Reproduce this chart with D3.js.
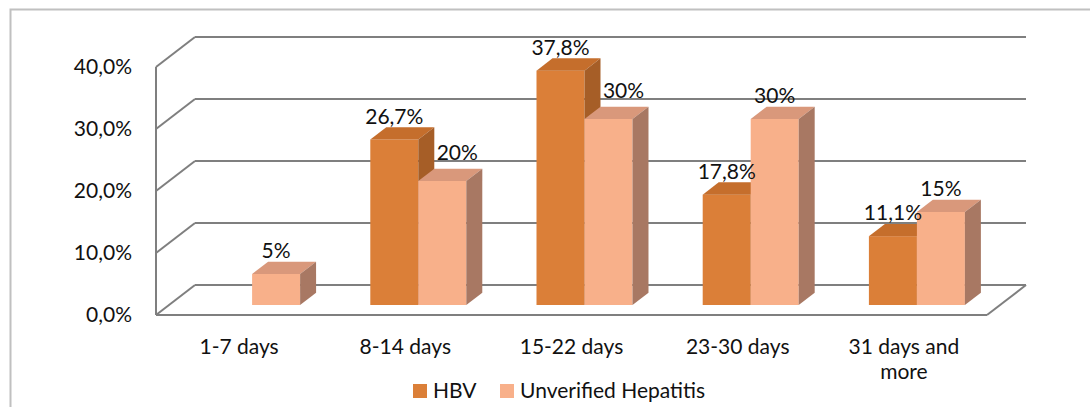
<!DOCTYPE html>
<html><head><meta charset="utf-8">
<script src="https://cdn.jsdelivr.net/npm/d3@7"></script>
<style>
html,body{margin:0;padding:0;background:#fff;}
svg{display:block;font-family:Lato,"Open Sans",sans-serif;}
</style></head>
<body><svg id="c" width="1090" height="407"></svg>
<script>
const categories = ["1-7 days","8-14 days","15-22 days","23-30 days","31 days and more"];
const seriesNames = ["HBV","Unverified Hepatitis"];
const hbv = [null, 26.7, 37.8, 17.8, 11.1];
const unverified = [5, 20, 30, 30, 15];
const tickValues = [0, 10, 20, 30, 40];
const tickLabels = ["0,0%","10,0%","20,0%","30,0%","40,0%"];

const svg = d3.select("#c");
const fontSize = 21;
const textColor = "#111";
const colors = {
  hbv: {front:"#DB7F38", top:"#C56E2C", side:"#A65E27"},
  unv: {front:"#F8B08A", top:"#D9987B", side:"#A87863"}
};

// outer border
svg.append("rect").attr("x",10.5).attr("y",9.5).attr("width",1100).attr("height",420)
  .attr("fill","none").attr("stroke","#c0c0c0").attr("stroke-width",2);

// geometry
const x0 = 156, x1 = 987;
const dX = 39, dY = -30;
const y = d3.scaleLinear().domain([0,40]).range([315,67]);
const xBand = d3.scaleBand().domain(categories).range([x0,x1]);
const barFrac = 1/3, barDepth = 0.41;
const barW = 48;

const grid = svg.append("g").attr("stroke","#7f7f7f").attr("stroke-width",2).attr("fill","none");
tickValues.forEach(v=>{
  grid.append("line").attr("x1",x0+dX).attr("x2",x1+dX).attr("y1",y(v)+dY).attr("y2",y(v)+dY);
  grid.append("line").attr("x1",x0).attr("x2",x0+dX).attr("y1",y(v)).attr("y2",y(v)+dY);
});
grid.append("line").attr("x1",x0).attr("x2",x0).attr("y1",y(40)).attr("y2",y(0));
grid.append("line").attr("x1",x0).attr("x2",x1).attr("y1",y(0)).attr("y2",y(0));
grid.append("line").attr("x1",x1).attr("x2",x1+dX).attr("y1",y(0)).attr("y2",y(0)+dY);

// y axis labels
const yAxis = d3.axisLeft(y).tickValues(tickValues).tickFormat((d,i)=>tickLabels[i]).tickSize(0).tickPadding(0);
const ya = svg.append("g").attr("transform","translate(132,0)").call(yAxis);
ya.select(".domain").remove();
ya.selectAll("text").attr("font-size",fontSize).attr("fill",textColor).attr("font-family","Lato,'Open Sans',sans-serif");

// bars
const offX = dX*barFrac, offY = dY*barFrac;
const bdx = dX*barDepth, bdy = dY*barDepth;
const barsG = svg.append("g");
const labelG = svg.append("g").attr("font-size",fontSize).attr("fill",textColor).attr("text-anchor","middle");

function drawBar(xl, v, c){
  const yb = y(0)+offY, yt = y(v)+offY;
  const xr = xl+barW;
  barsG.append("rect").attr("x",xl).attr("y",yt).attr("width",barW).attr("height",yb-yt).attr("fill",c.front);
  barsG.append("path").attr("d",`M${xl},${yt}L${xl+bdx},${yt+bdy}L${xr+bdx},${yt+bdy}L${xr},${yt}Z`).attr("fill",c.top);
  barsG.append("path").attr("d",`M${xr},${yt}L${xr+bdx},${yt+bdy}L${xr+bdx},${yb+bdy}L${xr},${yb}Z`).attr("fill",c.side);
}

categories.forEach((cat,i)=>{
  const cx = xBand(cat) + xBand.bandwidth()/2 + offX;
  const hv = hbv[i], uv = unverified[i];
  if(hv!=null) drawBar(cx-barW, hv, colors.hbv);
  drawBar(cx, uv, colors.unv);
  if(hv!=null){
    labelG.append("text").attr("x",cx-barW/2).attr("y",y(hv)+offY+bdy-11).attr("dy","0.35em")
      .text(d3.format(".1f")(hv).replace(".",",")+"%");
  }
  let lx = cx+barW/2, ly = y(uv)+offY+bdy-11;
  if(hv!=null && y(hv)+offY+bdy < ly+8){
    lx = cx + bdx + 4 + 19;
    ly -= 5;
  }
  labelG.append("text").attr("x",lx).attr("y",ly).attr("dy","0.35em").text(d3.format("d")(uv)+"%");
});

// category labels
const catG = svg.append("g").attr("font-size",fontSize).attr("fill",textColor).attr("text-anchor","middle");
categories.forEach(cat=>{
  const cx = xBand(cat)+xBand.bandwidth()/2;
  const lines = cat==="31 days and more" ? ["31 days and","more"] : [cat];
  const t = catG.append("text").attr("x",cx).attr("y",347);
  lines.forEach((ln,j)=>{
    t.append("tspan").attr("x",cx).attr("dy", j===0?"0.35em":"25").text(ln);
  });
});

// legend
const leg = svg.append("g").attr("font-size",fontSize).attr("fill",textColor);
const legItems = [{name:seriesNames[0], c:colors.hbv.front, x:413},{name:seriesNames[1], c:colors.unv.front, x:500}];
legItems.forEach(d=>{
  leg.append("rect").attr("x",d.x).attr("y",384).attr("width",14).attr("height",14).attr("fill",d.c);
  leg.append("text").attr("x",d.x+20).attr("y",391).attr("dy","0.35em").text(d.name);
});
</script></body></html>
